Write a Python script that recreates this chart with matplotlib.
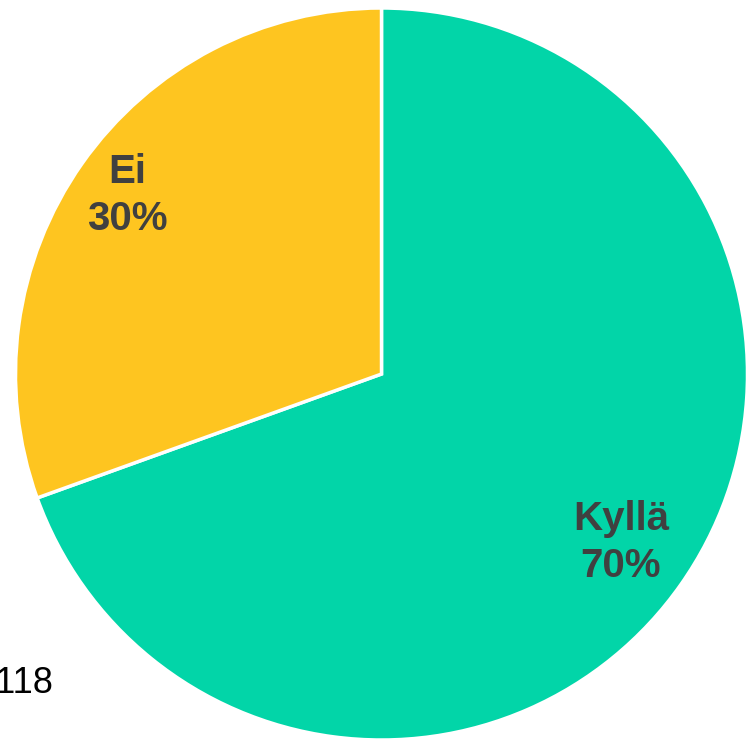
import numpy as np
import matplotlib
matplotlib.use("Agg")
import matplotlib.pyplot as plt

# Datos del gráfico
categorias = ["Kyllä", "Ei"]
valores = [69.5, 30.5]
etiquetas_pct = ["70%", "30%"]
colores = ["#02D5A8", "#FEC520"]
distancias = [0.80, 0.848]
nota = "n=118"

plt.rcParams["font.family"] = ["Liberation Sans", "DejaVu Sans"]

fig = plt.figure(figsize=(7.46, 7.40), dpi=100)
ax = fig.add_axes([0, 0, 1, 1])

centro = (381.5, 366)
radio = 366
wedges, _ = ax.pie(valores, colors=colores, startangle=90, counterclock=False,
                   center=centro, radius=radio,
                   wedgeprops=dict(edgecolor="white", linewidth=2.5))

for w, cat, pct, d in zip(wedges, categorias, etiquetas_pct, distancias):
    ang = np.deg2rad((w.theta1 + w.theta2) / 2)
    x = centro[0] + d * radio * np.cos(ang)
    y = centro[1] + d * radio * np.sin(ang)
    ax.text(x, y, f"{cat}\n{pct}", ha="center", va="center",
            fontsize=29, fontweight="bold", color="#404040", linespacing=1.3)

ax.text(53, 47, nota, ha="right", va="baseline", fontsize=26, color="black")

ax.set_xlim(0, 746)
ax.set_ylim(0, 740)
ax.set_aspect("equal")
ax.axis("off")

fig.savefig("out.png", dpi=100)
plt.close(fig)
